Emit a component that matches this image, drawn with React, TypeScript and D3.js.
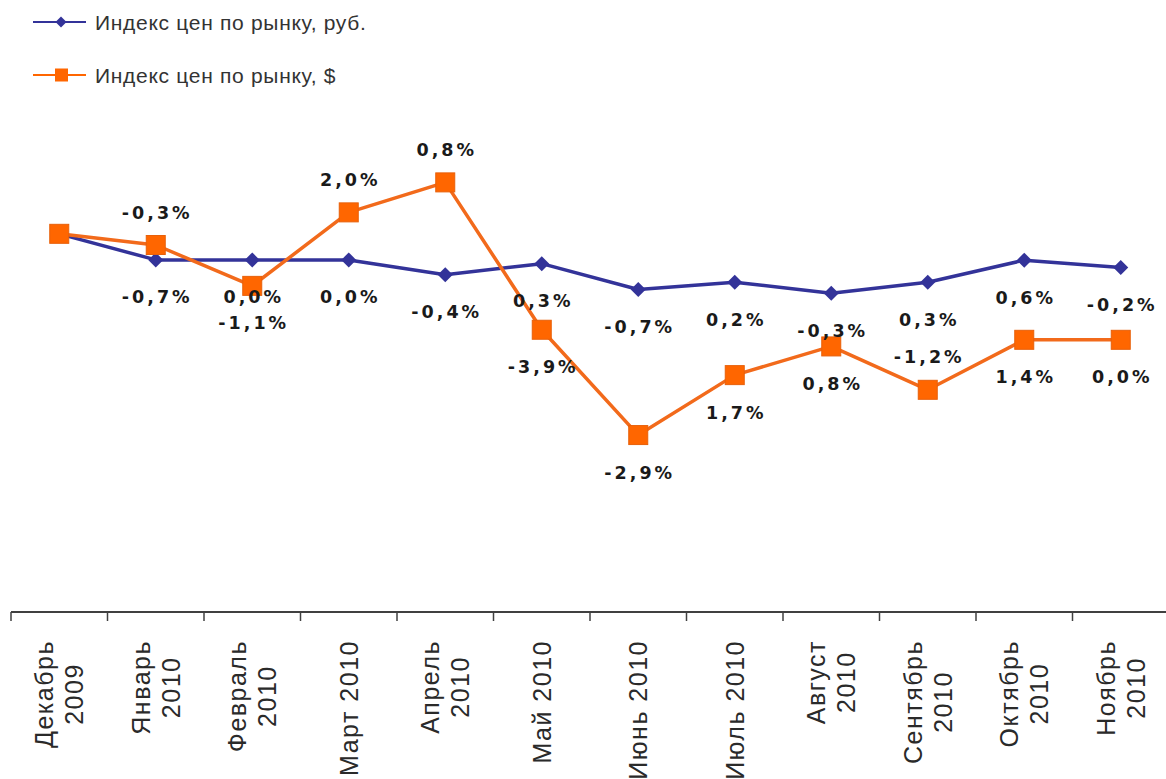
import React, { useEffect, useRef } from "react";
import * as d3 from "d3";

// Category labels, one array entry per line of the rotated tick text
const categoryLines: string[][] = [
  ["Декабрь", "2009"],
  ["Январь", "2010"],
  ["Февраль", "2010"],
  ["Март 2010"],
  ["Апрель", "2010"],
  ["Май 2010"],
  ["Июнь 2010"],
  ["Июль 2010"],
  ["Август", "2010"],
  ["Сентябрь", "2010"],
  ["Октябрь", "2010"],
  ["Ноябрь", "2010"],
];

// Month-on-month change of the market price index, %
const rubChange: (number | null)[] = [null, -0.7, 0.0, 0.0, -0.4, 0.3, -0.7, 0.2, -0.3, 0.3, 0.6, -0.2];
const usdChange: (number | null)[] = [null, -0.3, -1.1, 2.0, 0.8, -3.9, -2.9, 1.7, 0.8, -1.2, 1.4, 0.0];

// Which side of the point each change label sits on
const rubLabelSide: string[] = ["", "below", "below", "below", "below", "below", "below", "below", "below", "below", "below", "below"];
const usdLabelSide: string[] = ["", "above", "below", "above", "above", "below", "below", "below", "below", "above", "below", "below"];

const seriesNames = ["Индекс цен по рынку, руб.", "Индекс цен по рынку, $"];

const BASE = 100;

function toIndex(changes: (number | null)[]): number[] {
  const out: number[] = [];
  let v = BASE;
  changes.forEach((c) => {
    if (c !== null) v = v * (1 + c / 100);
    out.push(v);
  });
  return out;
}

const fmt = (v: number) => v.toFixed(1).replace(".", ",") + "%";

const W = 1166;
const H = 779;
const BLUE = "#333399";
const ORANGE = "#FF6600";

export default function App() {
  const ref = useRef<SVGSVGElement | null>(null);

  useEffect(() => {
    const svg = d3.select(ref.current);
    svg.selectAll("*").remove();

    const rubIdx = toIndex(rubChange);
    const usdIdx = toIndex(usdChange);

    const x = d3
      .scaleBand<number>()
      .domain(d3.range(categoryLines.length))
      .range([11, 1169]);
    const y = d3.scaleLinear().domain([89.8, 103]).range([614, 122]);
    const cx = (i: number) => (x(i) as number) + x.bandwidth() / 2;

    // Legend
    const legend = svg.append("g");
    const legendRows = [
      { name: seriesNames[0], color: BLUE, marker: "diamond", y: 22 },
      { name: seriesNames[1], color: ORANGE, marker: "square", y: 75 },
    ];
    legendRows.forEach((r) => {
      legend
        .append("line")
        .attr("x1", 33)
        .attr("x2", 86)
        .attr("y1", r.y)
        .attr("y2", r.y)
        .attr("stroke", r.color)
        .attr("stroke-width", 2);
      if (r.marker === "diamond") {
        legend
          .append("path")
          .attr("d", "M0,-5.5L5.5,0L0,5.5L-5.5,0Z")
          .attr("transform", `translate(61,${r.y})`)
          .attr("fill", r.color);
      } else {
        legend
          .append("rect")
          .attr("x", 55)
          .attr("y", r.y - 6.5)
          .attr("width", 13)
          .attr("height", 13)
          .attr("fill", r.color);
      }
      legend
        .append("text")
        .attr("x", 95)
        .attr("y", r.y + 7.5)
        .attr("font-family", "Liberation Sans, Arial, sans-serif")
        .attr("font-size", 21)
        .attr("letter-spacing", 0.7)
        .attr("fill", "#333")
        .text(r.name);
    });

    // Category axis
    const axis = svg.append("g");
    const step = x.step();
    axis
      .append("line")
      .attr("x1", 11)
      .attr("x2", W)
      .attr("y1", 612)
      .attr("y2", 612)
      .attr("stroke", "#404040")
      .attr("stroke-width", 2);
    d3.range(categoryLines.length + 1).forEach((i) => {
      const tx = 11 + i * step;
      axis
        .append("line")
        .attr("x1", tx)
        .attr("x2", tx)
        .attr("y1", 612)
        .attr("y2", 621)
        .attr("stroke", "#404040")
        .attr("stroke-width", 1.5);
    });

    categoryLines.forEach((lines, i) => {
      const g = axis.append("g");
      const texts = lines.map((ln, k) =>
        g
          .append("text")
          .attr("font-family", "Liberation Sans, Arial, sans-serif")
          .attr("font-size", 25)
          .attr("letter-spacing", 1.5)
          .attr("fill", "#2a2a2a")
          .attr("text-anchor", "middle")
          .attr("y", (k - (lines.length - 1) / 2) * 30)
          .attr("dy", "0.36em")
          .text(ln)
      );
      const maxLen = d3.max(texts, (t) => (t.node() as SVGTextElement).getComputedTextLength()) || 0;
      texts.forEach((t) => t.attr("x", -maxLen / 2));
      g.attr("transform", `translate(${cx(i)},640) rotate(-90)`);
    });

    const lineGen = d3
      .line<number>()
      .x((_, i) => cx(i))
      .y((d) => y(d));

    // Rouble series
    svg
      .append("path")
      .attr("d", lineGen(rubIdx))
      .attr("fill", "none")
      .attr("stroke", BLUE)
      .attr("stroke-width", 3.5)
      .attr("stroke-linejoin", "round");
    svg
      .append("g")
      .selectAll("path")
      .data(rubIdx)
      .join("path")
      .attr("d", "M0,-7.5L7.5,0L0,7.5L-7.5,0Z")
      .attr("transform", (d, i) => `translate(${cx(i)},${y(d)})`)
      .attr("fill", BLUE);

    // Dollar series
    svg
      .append("path")
      .attr("d", lineGen(usdIdx))
      .attr("fill", "none")
      .attr("stroke", "#F26A1B")
      .attr("stroke-width", 3.5)
      .attr("stroke-linejoin", "round");
    svg
      .append("g")
      .selectAll("rect")
      .data(usdIdx)
      .join("rect")
      .attr("x", (_, i) => cx(i) - 9.5)
      .attr("y", (d) => y(d) - 9.5)
      .attr("width", 19)
      .attr("height", 19)
      .attr("fill", ORANGE)
      .attr("stroke", "#E8600A")
      .attr("stroke-width", 1);

    // Change labels
    const labels = svg.append("g");
    const addLabels = (changes: (number | null)[], idx: number[], sides: string[]) => {
      changes.forEach((c, i) => {
        if (c === null) return;
        const py = y(idx[i]);
        const centerY = sides[i] === "above" ? py - 33 : py + 37;
        labels
          .append("text")
          .attr("x", cx(i) + 1.5)
          .attr("y", centerY + 6.5)
          .attr("text-anchor", "middle")
          .attr("font-family", "DejaVu Sans, Verdana, sans-serif")
          .attr("font-weight", "bold")
          .attr("font-size", 17.5)
          .attr("letter-spacing", 3)
          .attr("fill", "#1a1a1a")
          .text(fmt(c));
      });
    };
    addLabels(rubChange, rubIdx, rubLabelSide);
    addLabels(usdChange, usdIdx, usdLabelSide);
  }, []);

  return (
    <svg
      ref={ref}
      width={W}
      height={H}
      style={{ position: "absolute", left: 0, top: 0, background: "#fff" }}
    />
  );
}
